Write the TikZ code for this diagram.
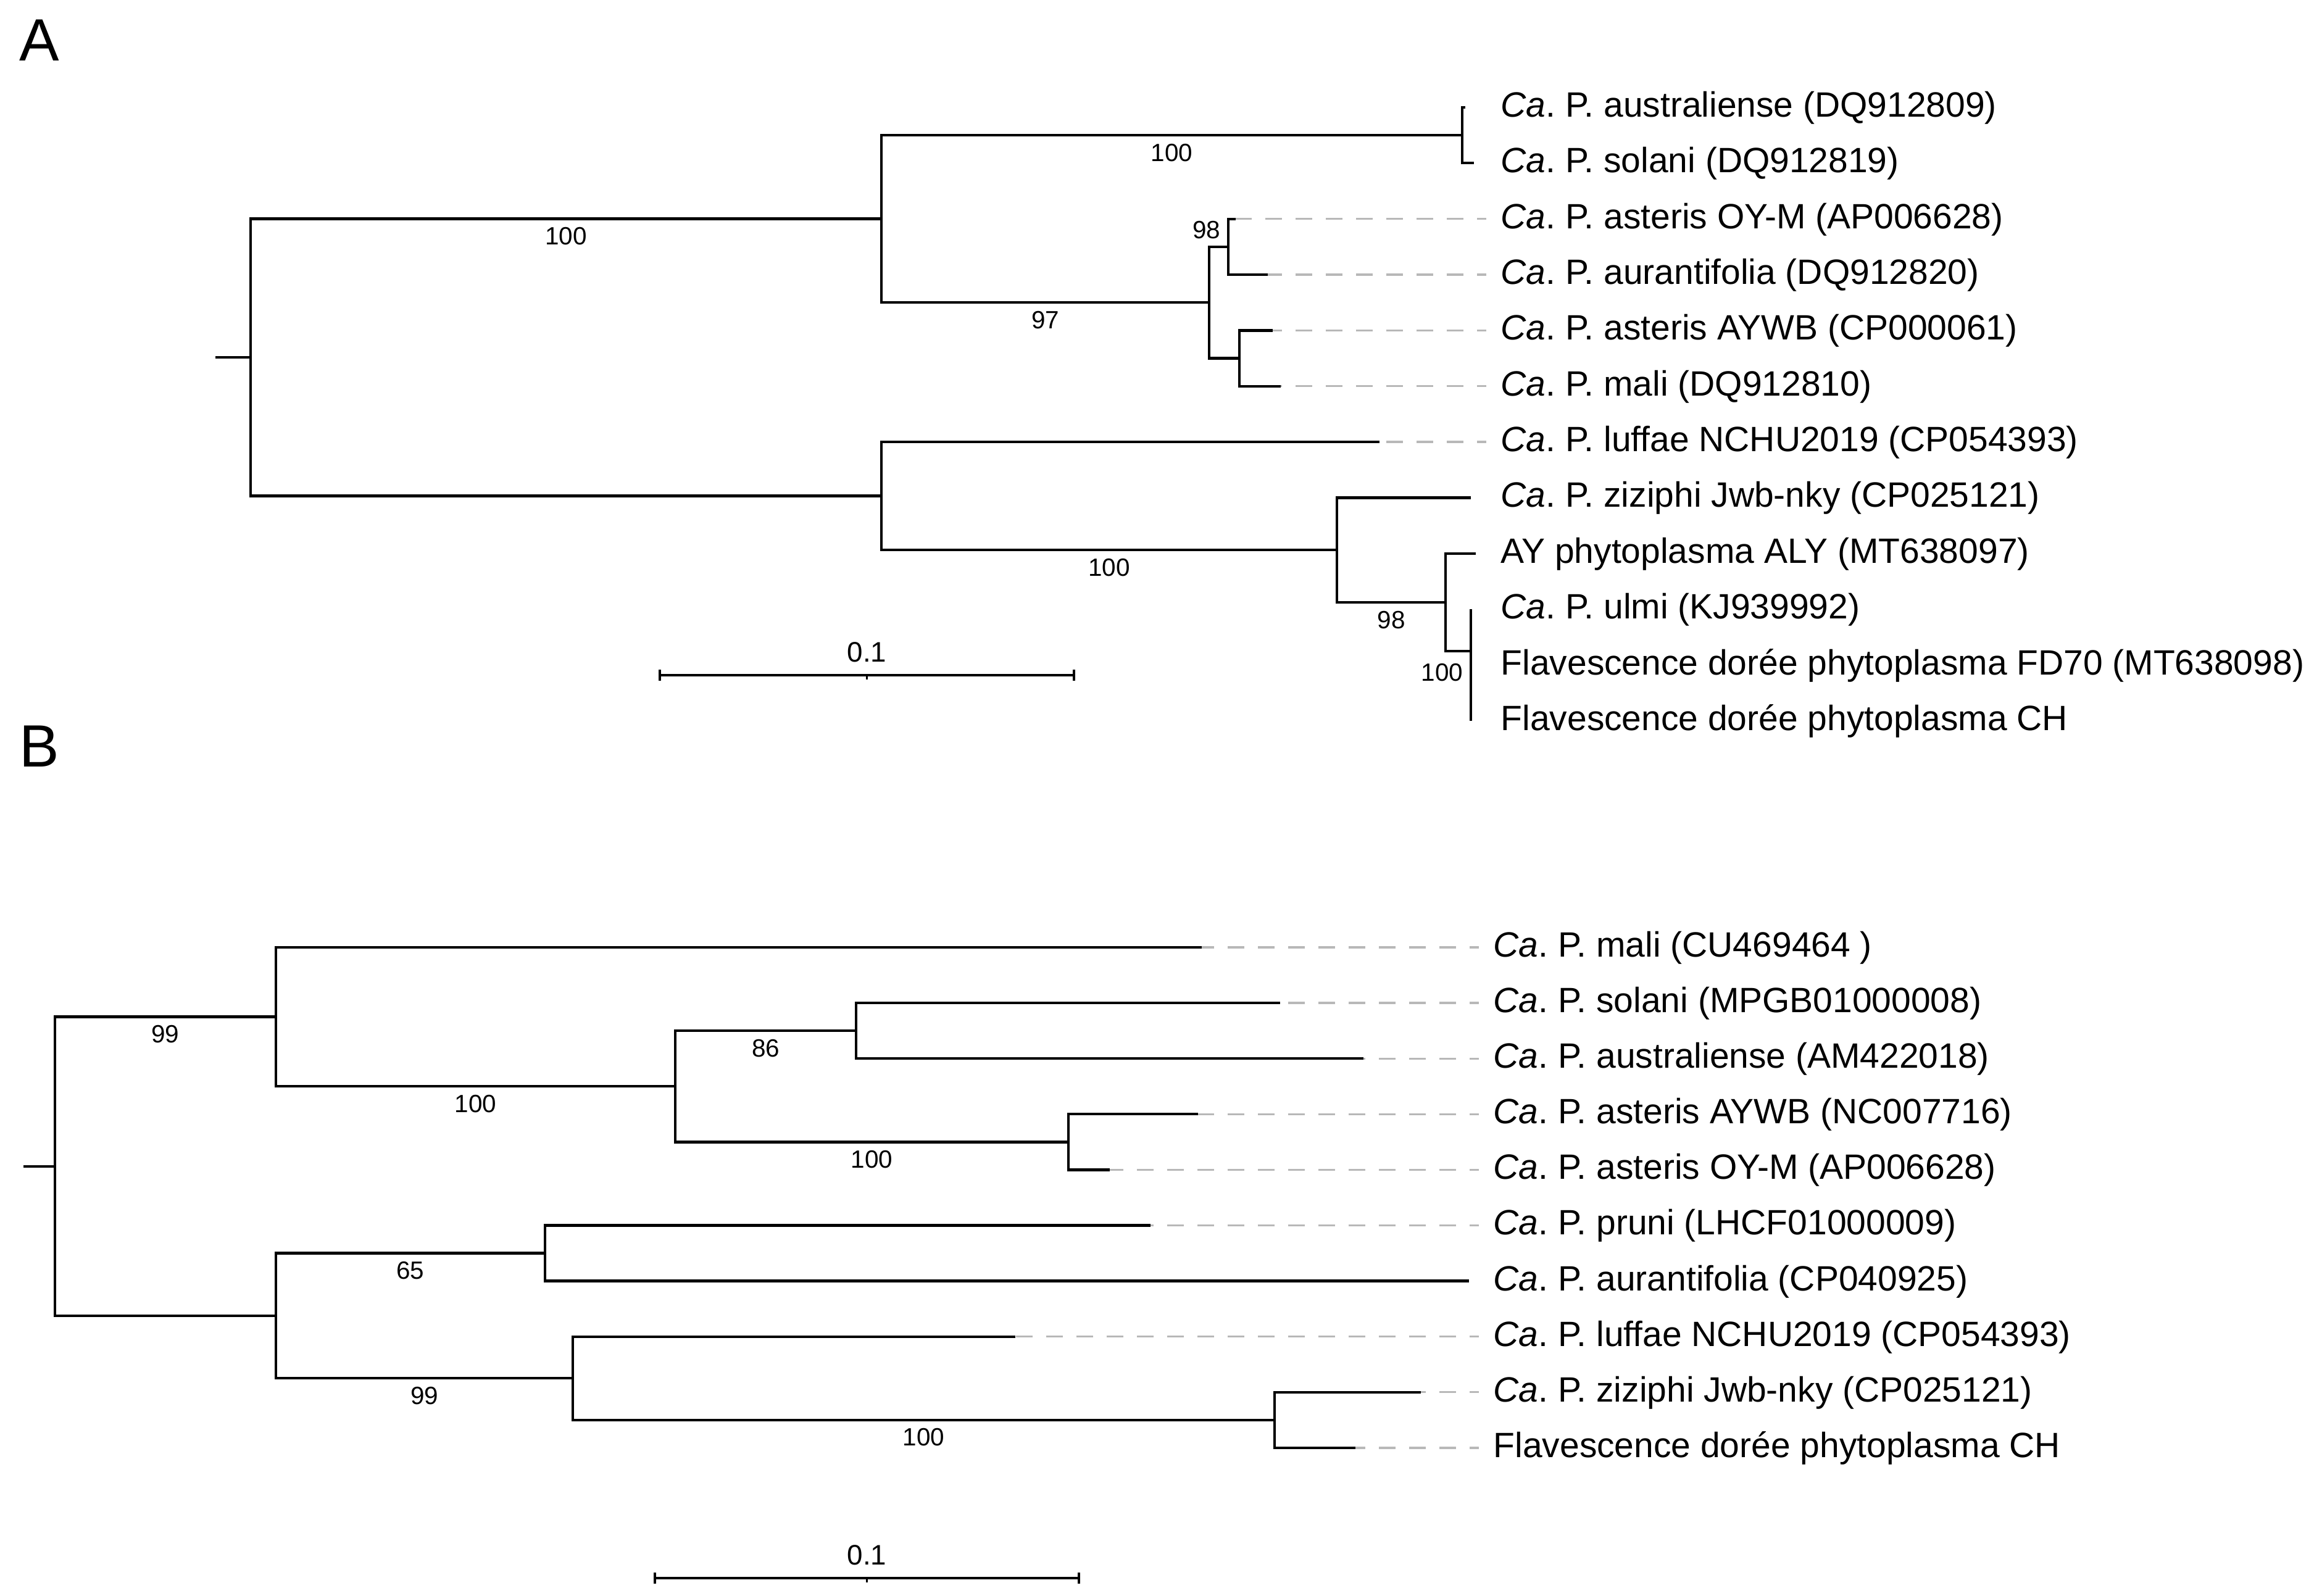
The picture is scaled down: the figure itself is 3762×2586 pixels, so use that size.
\documentclass[tikz,border=0pt]{standalone}
\usepackage{fontspec}
\setmainfont{Liberation Sans}
\usetikzlibrary{arrows.meta}
\newcommand{\ca}{\textit{Ca}.\ P.\ }

\begin{document}
\begin{tikzpicture}[x=0.01cm, y=-0.01cm,
    branch/.style={line width=1.2pt},
    tipdash/.style={line width=0.95pt, black!28, dash pattern=on 0.27cm off 0.22cm, dash phase=0.12cm},
    taxon/.style={anchor=west, inner xsep=0.23cm, inner ysep=0pt, text height=12.2pt, text depth=3.4pt,
        font=\fontsize{16.2}{19}\selectfont},
    boot/.style={below, font=\fontsize{11.5}{13}\selectfont},
    panel/.style={anchor=base west, inner sep=0pt, font=\fontsize{27.5}{30}\selectfont},
    scalebar/.style={line width=1.2pt, {Bar[width=0.18cm]}-{Bar[width=0.18cm]}}]
    \useasboundingbox (0,0) rectangle (3762,2586);

    \node[panel] (pA) at (31,99) {A};
    \node[panel] (pB) at (31,1243) {B};

    % tree A
    \foreach \i/\t in {0/\ca australiense (DQ912809), 1/\ca solani (DQ912819),
        2/\ca asteris OY-M (AP006628), 3/\ca aurantifolia (DQ912820),
        4/\ca asteris AYWB (CP000061), 5/\ca mali (DQ912810),
        6/\ca luffae NCHU2019 (CP054393), 7/\ca ziziphi Jwb-nky (CP025121),
        8/AY phytoplasma ALY (MT638097), 9/\ca ulmi (KJ939992),
        10/Flavescence dorée phytoplasma FD70 (MT638098), 11/Flavescence dorée phytoplasma CH}
        \node[taxon] (lA\i) at (2408,{174+90.36*\i}) {\t};
    \foreach \i/\x in {0/2374, 1/2388, 2/2002, 3/2054, 4/2062, 5/2075,
        6/2235, 7/2383, 8/2391, 9/2383, 10/2383, 11/2383}
        \coordinate (tA\i) at (\x,{174+90.36*\i});
    \coordinate (aS) at (349,579);
    \coordinate (aR) at (406,579);
    \coordinate (a1) at (1428,354.6);
    \coordinate (a2) at (1428,803.6);
    \coordinate (a11) at (2369,219.2);
    \coordinate (a12) at (1959,490.3);
    \coordinate (a121) at (1990,399.9);
    \coordinate (a122) at (2008,580.6);
    \coordinate (a21) at (2166,891.3);
    \coordinate (a211) at (2342,976);
    \coordinate (a2111) at (2383,1055);

    \foreach \i in {2,...,6}
        \draw[tipdash] (lA\i.west) -- (tA\i);

    \draw[branch] (aS) -- (aR);
    \draw[branch] (aR) |- (a1) node[boot, pos=0.75] (bA1) {100};
    \draw[branch] (aR) |- (a2);
    \draw[branch] (a1) |- (a11) node[boot, pos=0.75] (bA2) {100};
    \draw[branch] (a1) |- (a12) node[boot, pos=0.75] (bA3) {97};
    \draw[branch] (a11) |- (tA0);
    \draw[branch] (a11) |- (tA1);
    \draw[branch] (a12) |- (a121);
    \draw[branch] (a12) |- (a122);
    \draw[branch] (a121) |- (tA2);
    \draw[branch] (a121) |- (tA3);
    \draw[branch] (a122) |- (tA4);
    \draw[branch] (a122) |- (tA5);
    \draw[branch] (a2) |- (tA6);
    \draw[branch] (a2) |- (a21) node[boot, pos=0.75] (bA4) {100};
    \draw[branch] (a21) |- (tA7);
    \draw[branch] (a21) |- (a211) node[boot, pos=0.75] (bA5) {98};
    \draw[branch] (a211) |- (tA8);
    \draw[branch] (a211) |- (a2111);
    \draw[branch] (a2111) |- (tA9);
    \draw[branch] (a2111) |- (tA10);
    \draw[branch] (a2111) |- (tA11);
    \node[boot, anchor=south east, inner sep=0.12cm] (bA6) at (a121) {98};
    \node[boot, anchor=north east, inner sep=0.12cm, yshift=-0.08cm] (bA7) at (a2111) {100};

    \coordinate (sA1) at (1067,1094);
    \coordinate (sA2) at (1742,1094);
    \coordinate (sAm) at (1404.5,1094);
    \draw[scalebar] (sA1) -- (sA2);
    \draw[line width=0.9pt] (sAm) -- ++(0,7);
    \node[above, inner sep=0.2cm, font=\fontsize{13}{15}\selectfont] (sAl) at (sAm) {0.1};

    % tree B
    \foreach \i/\t in {0/\ca mali (CU469464 ), 1/\ca solani (MPGB01000008),
        2/\ca australiense (AM422018), 3/\ca asteris AYWB (NC007716),
        4/\ca asteris OY-M (AP006628), 5/\ca pruni (LHCF01000009),
        6/\ca aurantifolia (CP040925), 7/\ca luffae NCHU2019 (CP054393),
        8/\ca ziziphi Jwb-nky (CP025121), 9/Flavescence dorée phytoplasma CH}
        \node[taxon] (lB\i) at (2396,{1535+90.1*\i}) {\t};
    \foreach \i/\x in {0/1947, 1/2074, 2/2209, 3/1941, 4/1798,
        5/1864, 6/2380, 7/1645, 8/2302, 9/2196}
        \coordinate (tB\i) at (\x,{1535+90.1*\i});
    \coordinate (bS) at (38,1889.8);
    \coordinate (bR) at (89,1889.8);
    \coordinate (b1) at (447,1647.6);
    \coordinate (b12) at (1094,1760.3);
    \coordinate (b121) at (1387,1670.2);
    \coordinate (b122) at (1731,1850.4);
    \coordinate (b2) at (447,2132);
    \coordinate (b21) at (883,2030.6);
    \coordinate (b22) at (928,2233.3);
    \coordinate (b221) at (2065,2300.9);

    \foreach \i in {0,...,5,7,8,9}
        \draw[tipdash] (lB\i.west) -- (tB\i);

    \draw[branch] (bS) -- (bR);
    \draw[branch] (bR) |- (b1) node[boot, pos=0.75] (bB1) {99};
    \draw[branch] (bR) |- (b2);
    \draw[branch] (b1) |- (tB0);
    \draw[branch] (b1) |- (b12) node[boot, pos=0.75] (bB2) {100};
    \draw[branch] (b12) |- (b121) node[boot, pos=0.75] (bB3) {86};
    \draw[branch] (b12) |- (b122) node[boot, pos=0.75] (bB4) {100};
    \draw[branch] (b121) |- (tB1);
    \draw[branch] (b121) |- (tB2);
    \draw[branch] (b122) |- (tB3);
    \draw[branch] (b122) |- (tB4);
    \draw[branch] (b2) |- (b21) node[boot, pos=0.75] (bB5) {65};
    \draw[branch] (b2) |- (b22) node[boot, pos=0.75] (bB6) {99};
    \draw[branch] (b21) |- (tB5);
    \draw[branch] (b21) |- (tB6);
    \draw[branch] (b22) |- (tB7);
    \draw[branch] (b22) |- (b221) node[boot, pos=0.75] (bB7) {100};
    \draw[branch] (b221) |- (tB8);
    \draw[branch] (b221) |- (tB9);

    \coordinate (sB1) at (1059,2557);
    \coordinate (sB2) at (1750,2557);
    \coordinate (sBm) at (1404.5,2557);
    \draw[scalebar] (sB1) -- (sB2);
    \draw[line width=0.9pt] (sBm) -- ++(0,7);
    \node[above, inner sep=0.2cm, font=\fontsize{13}{15}\selectfont] (sBl) at (sBm) {0.1};
\end{tikzpicture}
\end{document}
